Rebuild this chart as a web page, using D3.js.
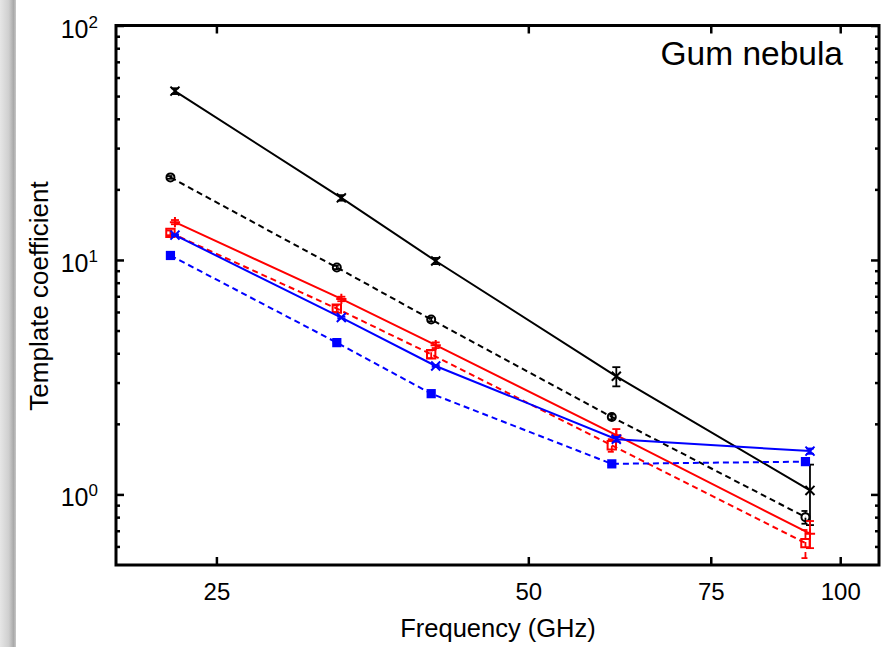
<!DOCTYPE html>
<html>
<head>
<meta charset="utf-8">
<script src="https://cdn.jsdelivr.net/npm/d3@7"></script>
<style>
  body { margin: 0; background: #fff; }
  svg { display: block; }
  text { font-family: "Liberation Sans", Arial, Helvetica, sans-serif; fill: #000; }
</style>
</head>
<body>
<svg id="chart"></svg>
<script>
// WMAP band centres (GHz); dashed series are plotted slightly shifted
const freqs = [22.8, 33.0, 40.7, 60.8, 93.5];
const dashShift = 0.99;

const blackSolid    = [52.5, 18.4, 9.9, 3.19, 1.04];
const blackSolidErr = [1.5, 0.5, 0.3, 0.3, 0.3];
const blackDash     = [22.5, 9.29, 5.57, 2.14, 0.80];
const blackDashErr  = [0.3, 0.15, 0.1, 0.05, 0.05];
const redSolid      = [14.5, 6.82, 4.33, 1.79, 0.68];
const redSolidErr   = [0.3, 0.15, 0.12, 0.11, 0.09];
const redDash       = [13.05, 6.2, 3.96, 1.62, 0.62];
const redDashErr    = [0.3, 0.2, 0.15, 0.1, 0.085];
const blueSolid     = [12.76, 5.68, 3.53, 1.72, 1.53];
const blueSolidErr  = [0.1, 0.05, 0.03, 0.04, 0.04];
const blueDash      = [10.45, 4.44, 2.69, 1.35, 1.38];
const blueDashErr   = [0.05, 0.03, 0.02, 0.02, 0.02];

const xTicks = [25, 50, 75, 100];
const yMajor = [1, 10, 100];
const yMinor = [0.6, 0.7, 0.8, 0.9, 2, 3, 4, 5, 6, 7, 8, 9, 20, 30, 40, 50, 60, 70, 80, 90];

const series = [
  { vals: blackSolid, errs: blackSolidErr, color: "#000", dashed: false, marker: "x" },
  { vals: blackDash,  errs: blackDashErr,  color: "#000", dashed: true,  marker: "circle" },
  { vals: redSolid,   errs: redSolidErr,   color: "#f00", dashed: false, marker: "plus" },
  { vals: redDash,    errs: redDashErr,    color: "#f00", dashed: true,  marker: "square" },
  { vals: blueSolid,  errs: blueSolidErr,  color: "#00f", dashed: false, marker: "x" },
  { vals: blueDash,   errs: blueDashErr,   color: "#00f", dashed: true,  marker: "fsquare" }
];

const width = 882, height = 647;
const plotLeft = 116, plotRight = 879, plotTop = 25.5, plotBottom = 565;

const svg = d3.select("#chart").attr("width", width).attr("height", height);

// grey page shadow at the left edge
const grad = svg.append("defs").append("linearGradient").attr("id", "shade");
grad.append("stop").attr("offset", "0").attr("stop-color", "#e6e6e6");
grad.append("stop").attr("offset", "0.55").attr("stop-color", "#cfcfcf");
grad.append("stop").attr("offset", "0.85").attr("stop-color", "#a9a9a9");
grad.append("stop").attr("offset", "1").attr("stop-color", "#c8c8c8");
svg.append("rect").attr("x", 0).attr("y", 0).attr("width", 16).attr("height", height).attr("fill", "url(#shade)");

const x = d3.scaleLog().domain([20, 109]).range([plotLeft, plotRight]);
const y = d3.scaleLog().domain([0.5, 100]).range([plotBottom, plotTop]);

// axes, ticks pointing inwards
function styleAxis(g) {
  g.select(".domain").remove();
  g.selectAll(".tick line").attr("stroke", "#000").attr("stroke-width", 2.5);
  g.selectAll("text").style("font-size", "24px").attr("fill", "#000");
}

svg.append("g").attr("transform", `translate(0,${plotBottom})`)
   .call(d3.axisBottom(x).tickValues(xTicks).tickSize(-8).tickPadding(18).tickFormat(d3.format("d")))
   .call(styleAxis);
svg.append("g").attr("transform", `translate(0,${plotTop})`)
   .call(d3.axisTop(x).tickValues(xTicks).tickSize(-8).tickFormat(""))
   .call(styleAxis);

const yLeft = svg.append("g").attr("transform", `translate(${plotLeft},0)`)
   .call(d3.axisLeft(y).tickValues(yMajor).tickSize(-8).tickPadding(18).tickFormat(d => d))
   .call(styleAxis);
yLeft.selectAll("text").attr("dy", "0.48em").each(function(d) {
  const t = d3.select(this).text("");
  t.append("tspan").style("font-size", "25px").text("10");
  t.append("tspan").attr("dy", -10).style("font-size", "17px").text(Math.round(Math.log10(d)));
});
svg.append("g").attr("transform", `translate(${plotLeft},0)`)
   .call(d3.axisLeft(y).tickValues(yMinor).tickSize(-4).tickFormat(""))
   .call(styleAxis);
svg.append("g").attr("transform", `translate(${plotRight},0)`)
   .call(d3.axisRight(y).tickValues(yMajor).tickSize(-8).tickFormat(""))
   .call(styleAxis);
svg.append("g").attr("transform", `translate(${plotRight},0)`)
   .call(d3.axisRight(y).tickValues(yMinor).tickSize(-4).tickFormat(""))
   .call(styleAxis);

// series
const symbols = {
  x: d3.symbol(d3.symbolX, 55),
  plus: d3.symbol(d3.symbolPlus, 36),
  circle: d3.symbol(d3.symbolCircle, 50),
  square: d3.symbol(d3.symbolSquare, 70),
  fsquare: d3.symbol(d3.symbolSquare, 85)
};

const line = d3.line().x(d => x(d.f)).y(d => y(d.v));

series.forEach(s => {
  const pts = s.vals.map((v, i) => ({ f: s.dashed ? freqs[i] * dashShift : freqs[i], v: v, e: s.errs[i] }));
  const dash = s.dashed ? "6,4" : null;
  const g = svg.append("g");

  g.append("path").datum(pts)
   .attr("d", line).attr("fill", "none")
   .attr("stroke", s.color).attr("stroke-width", 2)
   .attr("stroke-dasharray", dash);

  const eb = g.selectAll(".err").data(pts).enter().append("g")
   .attr("stroke", s.color).attr("stroke-width", 1.8).attr("stroke-dasharray", dash);
  eb.append("line")
    .attr("x1", d => x(d.f)).attr("x2", d => x(d.f))
    .attr("y1", d => y(d.v - d.e)).attr("y2", d => y(d.v + d.e));
  eb.append("line")
    .attr("x1", d => x(d.f) - 4).attr("x2", d => x(d.f) + 4)
    .attr("y1", d => y(d.v - d.e)).attr("y2", d => y(d.v - d.e));
  eb.append("line")
    .attr("x1", d => x(d.f) - 4).attr("x2", d => x(d.f) + 4)
    .attr("y1", d => y(d.v + d.e)).attr("y2", d => y(d.v + d.e));

  g.selectAll(".mk").data(pts).enter().append("path")
   .attr("transform", d => `translate(${x(d.f)},${y(d.v)})`)
   .attr("d", symbols[s.marker]())
   .attr("fill", s.marker === "fsquare" ? s.color : "none")
   .attr("stroke", s.color)
   .attr("stroke-width", s.marker === "fsquare" ? 0 : 2);
});

// frame
svg.append("rect")
   .attr("x", plotLeft).attr("y", plotTop)
   .attr("width", plotRight - plotLeft).attr("height", plotBottom - plotTop)
   .attr("fill", "none").attr("stroke", "#000").attr("stroke-width", 3);

// labels
svg.append("text")
   .attr("x", 843).attr("y", 65).attr("text-anchor", "end")
   .style("font-size", "33.5px").text("Gum nebula");

svg.append("text")
   .attr("x", 498).attr("y", 637).attr("text-anchor", "middle")
   .style("font-size", "25.5px").text("Frequency (GHz)");

svg.append("text")
   .attr("transform", "translate(48,296) rotate(-90)").attr("text-anchor", "middle")
   .style("font-size", "26px").text("Template coefficient");
</script>
</body>
</html>
